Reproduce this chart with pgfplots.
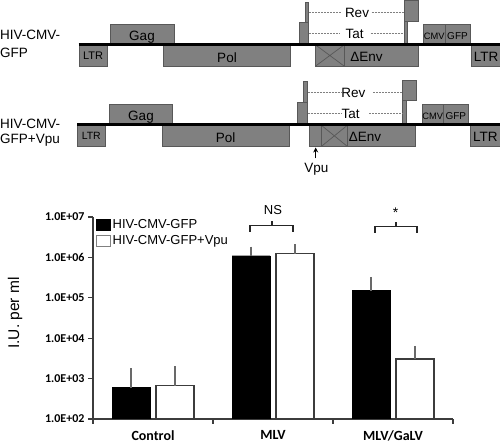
\documentclass[border=0pt]{standalone}
\usepackage{pgfplots}
\pgfplotsset{compat=1.18}
\usepackage{fontspec}
\setmainfont{Liberation Sans}
\newfontfamily\calfont{Carlito}
\usetikzlibrary{arrows.meta}
\definecolor{boxfill}{RGB}{128,128,128}
\definecolor{boxdraw}{RGB}{88,88,88}
\definecolor{axgray}{RGB}{60,60,60}
\definecolor{errgray}{RGB}{105,105,105}
\newcommand{\fs}[1]{\fontsize{#1}{#1}\selectfont}
\newcommand{\gb}[4]{\draw[fill=boxfill,draw=boxdraw,line width=0.7pt] (#1,#2) rectangle (#3,#4);}
\newcommand{\xb}[4]{\draw[fill=boxfill,draw=boxdraw,line width=0.7pt] (#1,#2) rectangle (#3,#4); \draw[boxdraw,line width=0.7pt] (#1,#2) -- (#3,#4) (#1,#4) -- (#3,#2);}
\begin{document}
\begin{tikzpicture}
\path[use as bounding box] (0pt,0pt) rectangle (500pt,446pt);
% ---------- schematic (pixel coordinates, y downwards) ----------
\begin{axis}[at={(0pt,0pt)}, anchor=south west, scale only axis, width=500pt, height=446pt,
  xmin=0, xmax=500, ymin=0, ymax=446, y dir=reverse, hide axis, clip=false]
  % labels
  \node[anchor=base west, font=\fs{13.5}, inner sep=0pt] at (0,39.3) {HIV-CMV-};
  \node[anchor=base west, font=\fs{13.5}, inner sep=0pt] at (0,57.3) {GFP};
  \node[anchor=base west, font=\fs{13.5}, inner sep=0pt] at (0,128.3) {HIV-CMV-};
  \node[anchor=base west, font=\fs{13.5}, inner sep=0pt] at (0,143.6) {GFP+Vpu};
  % construct 1
  \gb{79}{45}{107}{66}
  \gb{110}{24.3}{174}{44}
  \gb{163}{45}{290.7}{66}
  \gb{299}{22.7}{308.3}{44}
  \gb{305}{2.7}{308.7}{22.7}
  \gb{404.3}{0.7}{418.3}{21.7}
  \gb{404.3}{21.7}{407.7}{44}
  \gb{315.7}{45}{418.3}{66}
  \xb{315.7}{45}{344}{66}
  \gb{423.3}{24.3}{445}{44}
  \gb{445}{24.3}{470}{44}
  \gb{471.7}{45}{500}{66}
  \draw[black, line width=3pt] (78.7,44.5) -- (500,44.5);
  \draw[gray, line width=0.6pt, dash pattern=on 2pt off 1pt] (309,12.3) -- (340.7,12.3) (371.7,12.3) -- (403.5,12.3);
  \draw[gray, line width=0.6pt, dash pattern=on 2pt off 1pt] (309,33.3) -- (340,33.3) (370.7,33.3) -- (403.5,33.3);
  \node[anchor=base, font=\fs{13.5}, inner sep=0pt] at (142,40.5) {Gag};
  \node[anchor=base, font=\fs{13.5}, inner sep=0pt] at (227,62.7) {Pol};
  \node[anchor=base, font=\fs{11}, inner sep=0pt] at (93,59.8) {LTR};
  \node[anchor=base, font=\fs{13.5}, inner sep=0pt] at (357,17.3) {Rev};
  \node[anchor=base, font=\fs{13.5}, inner sep=0pt] at (354.5,39) {Tat};
  \node[anchor=base, font=\fs{13.5}, inner sep=0pt] at (366.5,61.7) {ΔEnv};
  \node[anchor=base, font=\fs{9.3}, inner sep=0pt] at (434.2,40) {CMV};
  \node[anchor=base, font=\fs{10}, inner sep=0pt] at (457.5,40) {GFP};
  \node[anchor=base, font=\fs{13.5}, inner sep=0pt] at (486,61.3) {LTR};
  % construct 2
  \gb{77}{125}{105.7}{146}
  \gb{109}{104.3}{172.3}{124}
  \gb{162.3}{125}{289.3}{146}
  \gb{297.3}{102.7}{307.3}{124}
  \gb{303.3}{81.7}{307.3}{102.7}
  \gb{402.7}{80.5}{416.7}{100.7}
  \gb{402.7}{100.7}{406}{124}
  \gb{309.3}{125}{415.7}{146.7}
  \xb{321}{125}{347.7}{146.7}
  \gb{422.3}{104.3}{443.3}{124}
  \gb{443.3}{104.3}{468.3}{124}
  \gb{470}{125}{500}{146.7}
  \draw[black, line width=3pt] (77,124.5) -- (500,124.5);
  \draw[gray, line width=0.6pt, dash pattern=on 2pt off 1pt] (307.5,92.3) -- (342.3,92.3) (373.3,92.3) -- (402.5,92.3);
  \draw[gray, line width=0.6pt, dash pattern=on 2pt off 1pt] (307.5,113.3) -- (342.3,113.3) (369.3,113.3) -- (402.5,113.3);
  \node[anchor=base, font=\fs{13.5}, inner sep=0pt] at (141,120.5) {Gag};
  \node[anchor=base, font=\fs{13.5}, inner sep=0pt] at (225.7,142.7) {Pol};
  \node[anchor=base, font=\fs{10.5}, inner sep=0pt] at (91.3,139.8) {LTR};
  \node[anchor=base, font=\fs{13.5}, inner sep=0pt] at (353.3,97.3) {Rev};
  \node[anchor=base, font=\fs{13.5}, inner sep=0pt] at (350.7,119) {Tat};
  \node[anchor=base, font=\fs{13.5}, inner sep=0pt] at (365,142) {ΔEnv};
  \node[anchor=base, font=\fs{9.3}, inner sep=0pt] at (432.8,120) {CMV};
  \node[anchor=base, font=\fs{10}, inner sep=0pt] at (455.8,120) {GFP};
  \node[anchor=base, font=\fs{13.5}, inner sep=0pt] at (485.3,141.3) {LTR};
  \draw[black, line width=1.2pt, -{Stealth[length=5pt,width=5pt]}] (315.7,158.5) -- (315.7,147.5);
  \node[anchor=base, font=\fs{13.5}, inner sep=0pt] at (316.3,172.7) {Vpu};
  % significance brackets
  \draw[black!85, line width=1.6pt] (250,231.7) -- (250,225.7) -- (293,225.7) -- (293,231.7) (272,225.7) -- (272,220.7);
  \node[anchor=base, font=\fs{13}, inner sep=0pt] at (273,214.3) {NS};
  \draw[black!85, line width=1.6pt] (374.7,232.7) -- (374.7,226.7) -- (416.7,226.7) -- (416.7,232.7) (396,226.7) -- (396,221.7);
  \node[anchor=base, font=\fs{14}, inner sep=0pt] at (395.7,218) {*};
\end{axis}
% ---------- bar chart ----------
\begin{axis}[at={(93pt,27pt)}, anchor=south west, scale only axis, width=360pt, height=202pt,
  ymode=log, ymin=1e2, ymax=1e7, log origin=infty,
  xmin=0, xmax=3,
  axis x line*=bottom, axis y line*=left,
  axis line style={axgray, line width=1.2pt},
  tick style={axgray, line width=1.2pt},
  tick align=outside, major tick length=5pt,
  xtick={0,1,2,3}, x tick label as interval, xticklabels={Control,MLV,MLV/GaLV},
  xticklabel style={font=\calfont\bfseries\fs{14}, yshift=-3pt},
  ytick={1e2,1e3,1e4,1e5,1e6,1e7},
  yticklabels={1.0E+02,1.0E+03,1.0E+04,1.0E+05,1.0E+06,1.0E+07},
  yticklabel style={font=\calfont\bfseries\fs{12}},
  yminorticks=false,
  ylabel={I.U. per ml},
  ylabel style={at={(axis description cs:-0.216,0.525)}, anchor=center, font=\fs{15.5}},
  ybar=6pt, bar width=38pt,
  legend style={at={(rel axis cs:0.008,1.0)}, anchor=north west, draw=none, fill=none,
    inner sep=0pt, font=\fs{13}, row sep=2pt, cells={anchor=west}},
  legend cell align=left,
  error bars/y dir=plus, error bars/y explicit,
  error bars/error bar style={errgray, line width=1.3pt},
  error bars/error mark options={errgray, line width=1.3pt, mark size=2.5pt},
]
\addplot[fill=black, draw=black,
  legend image code/.code={\draw[fill=black,draw=black] (0pt,-5.5pt) rectangle (14pt,5.5pt);}]
  coordinates {(0.5,600) += (0,950) (1.5,1.1e6) += (0,5.0e5) (2.5,1.5e5) += (0,1.37e5)};
\addplot[fill=white, draw=axgray, line width=1.1pt,
  legend image code/.code={\draw[fill=white,draw=gray,line width=0.6pt] (0pt,-5.5pt) rectangle (14pt,5.5pt);}]
  coordinates {(0.5,660) += (0,1070) (1.5,1.23e6) += (0,6.1e5) (2.5,3050) += (0,2550)};
\legend{HIV-CMV-GFP, HIV-CMV-GFP+Vpu}
\end{axis}
\end{tikzpicture}
\end{document}
